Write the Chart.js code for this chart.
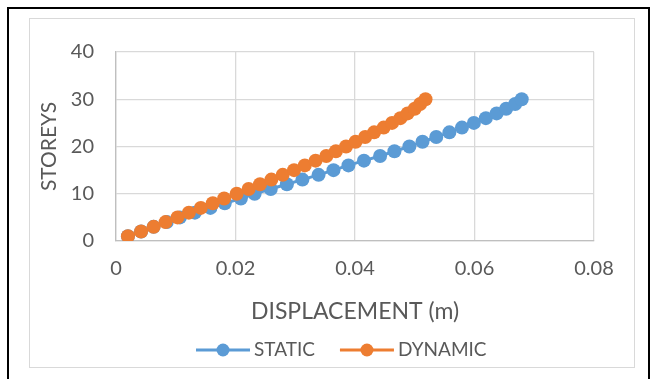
<!DOCTYPE html>
<html>
<head>
<meta charset="utf-8">
<script src="https://cdn.jsdelivr.net/npm/chart.js@4.4.1/dist/chart.umd.min.js"></script>
<style>
  html, body { margin: 0; padding: 0; background: #fff; width: 654px; height: 379px; overflow: hidden; }
  #frame { position: absolute; left: 7px; top: 7px; width: 643px; height: 390px; border: 2px solid #000; box-sizing: border-box; }
  #inner { position: absolute; left: 29px; top: 18px; width: 606px; height: 350px; border: 1px solid #d9d9d9; box-sizing: border-box; }
  #wrap { position: absolute; left: 29px; top: 18px; width: 606px; height: 350px; }
</style>
</head>
<body>
<div id="frame"></div>
<div id="inner"></div>
<div id="wrap"><canvas id="c" width="606" height="350"></canvas></div>
<script>
const storeys = [1,2,3,4,5,6,7,8,9,10,11,12,13,14,15,16,17,18,19,20,21,22,23,24,25,26,27,28,29,30];
const staticDisp = [0.0020,0.0042,0.0063,0.0085,0.0107,0.0132,0.0158,0.0182,0.0209,0.0232,0.0259,0.0286,0.0312,0.0339,0.0364,0.0389,0.0415,0.0442,0.0466,0.0491,0.0513,0.0536,0.0558,0.0579,0.0599,0.0619,0.0637,0.0653,0.0668,0.0679];
const dynamicDisp = [0.0020,0.0042,0.0063,0.0083,0.0103,0.0122,0.0142,0.0162,0.0181,0.0202,0.0222,0.0241,0.0260,0.0279,0.0298,0.0316,0.0334,0.0352,0.0368,0.0385,0.0401,0.0417,0.0432,0.0448,0.0462,0.0476,0.0488,0.0500,0.0509,0.0518];
const seriesNames = ['STATIC', 'DYNAMIC'];
const xTicks = [0, 0.02, 0.04, 0.06, 0.08];
const yTicks = [0, 10, 20, 30, 40];
const xTitle = 'DISPLACEMENT (m)';
const yTitle = 'STOREYS';

const FONT = 'Lato, "Open Sans", sans-serif';
const TXT = '#595959';
const colors = ['#5b9bd5', '#ed7d31'];

function pts(xs) { return xs.map((x, i) => ({ x: x, y: storeys[i] })); }

const legendPlugin = {
  id: 'excelLegend',
  afterDraw(chart) {
    const ctx = chart.ctx;
    ctx.save();
    ctx.font = '19px ' + FONT;
    ctx.textBaseline = 'middle';
    const y = 332;
    let x = 167;
    chart.data.datasets.forEach((ds, i) => {
      ctx.strokeStyle = ds.borderColor;
      ctx.lineWidth = 3;
      ctx.beginPath(); ctx.moveTo(x, y); ctx.lineTo(x + 54, y); ctx.stroke();
      ctx.fillStyle = ds.backgroundColor;
      ctx.beginPath(); ctx.arc(x + 27, y, 6.5, 0, Math.PI * 2); ctx.fill();
      ctx.fillStyle = TXT;
      ctx.textAlign = 'left';
      ctx.fillText(ds.label, x + 58, y);
      x += 58 + ctx.measureText(ds.label).width + 25;
    });
    ctx.restore();
  }
};

new Chart(document.getElementById('c'), {
  type: 'scatter',
  data: {
    datasets: [
      { label: seriesNames[0], data: pts(staticDisp), showLine: true, borderColor: colors[0], backgroundColor: colors[0], borderWidth: 3, pointRadius: 7, pointBorderWidth: 0, pointHoverRadius: 7, order: 1 },
      { label: seriesNames[1], data: pts(dynamicDisp), showLine: true, borderColor: colors[1], backgroundColor: colors[1], borderWidth: 3, pointRadius: 7, pointBorderWidth: 0, pointHoverRadius: 7, order: 0 }
    ]
  },
  options: {
    responsive: false,
    animation: false,
    layout: { padding: { left: 0, right: 41, top: 26, bottom: 43 } },
    plugins: { legend: { display: false }, tooltip: { enabled: false } },
    scales: {
      x: {
        type: 'linear', min: xTicks[0], max: xTicks[xTicks.length - 1],
        afterBuildTicks: s => { s.ticks = xTicks.map(v => ({ value: v })); },
        afterFit: s => { s.height = 84; },
        grid: { color: '#d9d9d9', lineWidth: 1.3, drawTicks: false },
        border: { color: '#bfbfbf', width: 1.3 },
        ticks: { padding: 16, color: TXT, font: { family: FONT, size: 20 }, maxRotation: 0, callback: v => String(v) },
        title: { display: true, text: xTitle, color: TXT, font: { family: FONT, size: 23 }, padding: { top: 0, bottom: 0 } }
      },
      y: {
        type: 'linear', min: yTicks[0], max: yTicks[yTicks.length - 1],
        afterBuildTicks: s => { s.ticks = yTicks.map(v => ({ value: v })); },
        afterFit: s => { s.width = 87; },
        grid: { color: '#d9d9d9', lineWidth: 1.3, drawTicks: false },
        border: { color: '#bfbfbf', width: 1.3 },
        ticks: { padding: 22, color: TXT, font: { family: FONT, size: 20 } },
        title: { display: true, text: yTitle, color: TXT, font: { family: FONT, size: 21 }, padding: { top: 8, bottom: 0 } }
      }
    }
  },
  plugins: [legendPlugin]
});
</script>
</body>
</html>
